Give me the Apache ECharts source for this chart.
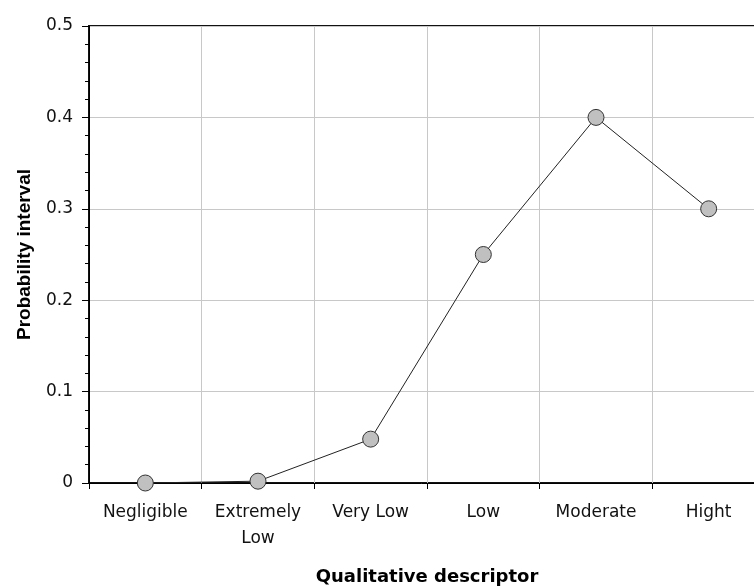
<!DOCTYPE html>
<html>
<head>
<meta charset="utf-8">
<script src="https://cdn.jsdelivr.net/npm/echarts@6/dist/echarts.min.js"></script>
<style>html,body{margin:0;padding:0;background:#fff}#c{width:754px;height:586px}</style>
</head>
<body>
<div id="c"></div>
<script>
var categories = ['Negligible', 'Extremely\nLow', 'Very Low', 'Low', 'Moderate', 'Hight'];
var probability = [0, 0.002, 0.048, 0.25, 0.4, 0.3];
var yTicks = {min: 0, max: 0.5, interval: 0.1};
var xTitle = 'Qualitative descriptor';
var yTitle = 'Probability interval';

var chart = echarts.init(document.getElementById('c'), null, {renderer: 'canvas'});
chart.setOption({
  animation: false,
  backgroundColor: '#ffffff',
  grid: {left: 89, top: 26, width: 676, height: 457, show: true, borderColor: '#111', borderWidth: 2, containLabel: false, outerBoundsMode: 'none'},
  xAxis: {
    type: 'category',
    data: categories,
    boundaryGap: true,
    name: xTitle,
    nameLocation: 'middle',
    nameGap: 85,
    nameTextStyle: {fontFamily: 'DejaVu Sans', fontWeight: 'bold', fontSize: 18, color: '#000'},
    axisLine: {lineStyle: {color: '#000', width: 1}},
    axisTick: {show: true, length: 6, lineStyle: {color: '#000'}, alignWithLabel: false},
    axisLabel: {fontFamily: 'DejaVu Sans', fontSize: 17, color: '#111', margin: 17, lineHeight: 26, interval: 0},
    splitLine: {show: true, lineStyle: {color: '#c8c8c8', width: 1}}
  },
  yAxis: {
    type: 'value',
    min: yTicks.min,
    max: yTicks.max,
    interval: yTicks.interval,
    name: yTitle,
    nameLocation: 'middle',
    nameGap: 55,
    nameRotate: 90,
    nameTextStyle: {fontFamily: 'Liberation Sans', fontWeight: 'bold', fontSize: 19, color: '#000'},
    axisLine: {show: true, lineStyle: {color: '#000', width: 1}},
    axisTick: {show: true, length: 7, lineStyle: {color: '#000'}},
    minorTick: {show: true, splitNumber: 5, length: 4, lineStyle: {color: '#000'}},
    axisLabel: {fontFamily: 'DejaVu Sans', fontSize: 17, color: '#111', margin: 16},
    splitLine: {show: true, lineStyle: {color: '#c8c8c8', width: 1}}
  },
  series: [{
    type: 'line',
    data: probability,
    symbol: 'circle',
    symbolSize: 16,
    lineStyle: {color: '#222', width: 1},
    itemStyle: {color: '#c0c0c0', borderColor: '#333', borderWidth: 1},
    z: 3
  }]
});
</script>
</body>
</html>
